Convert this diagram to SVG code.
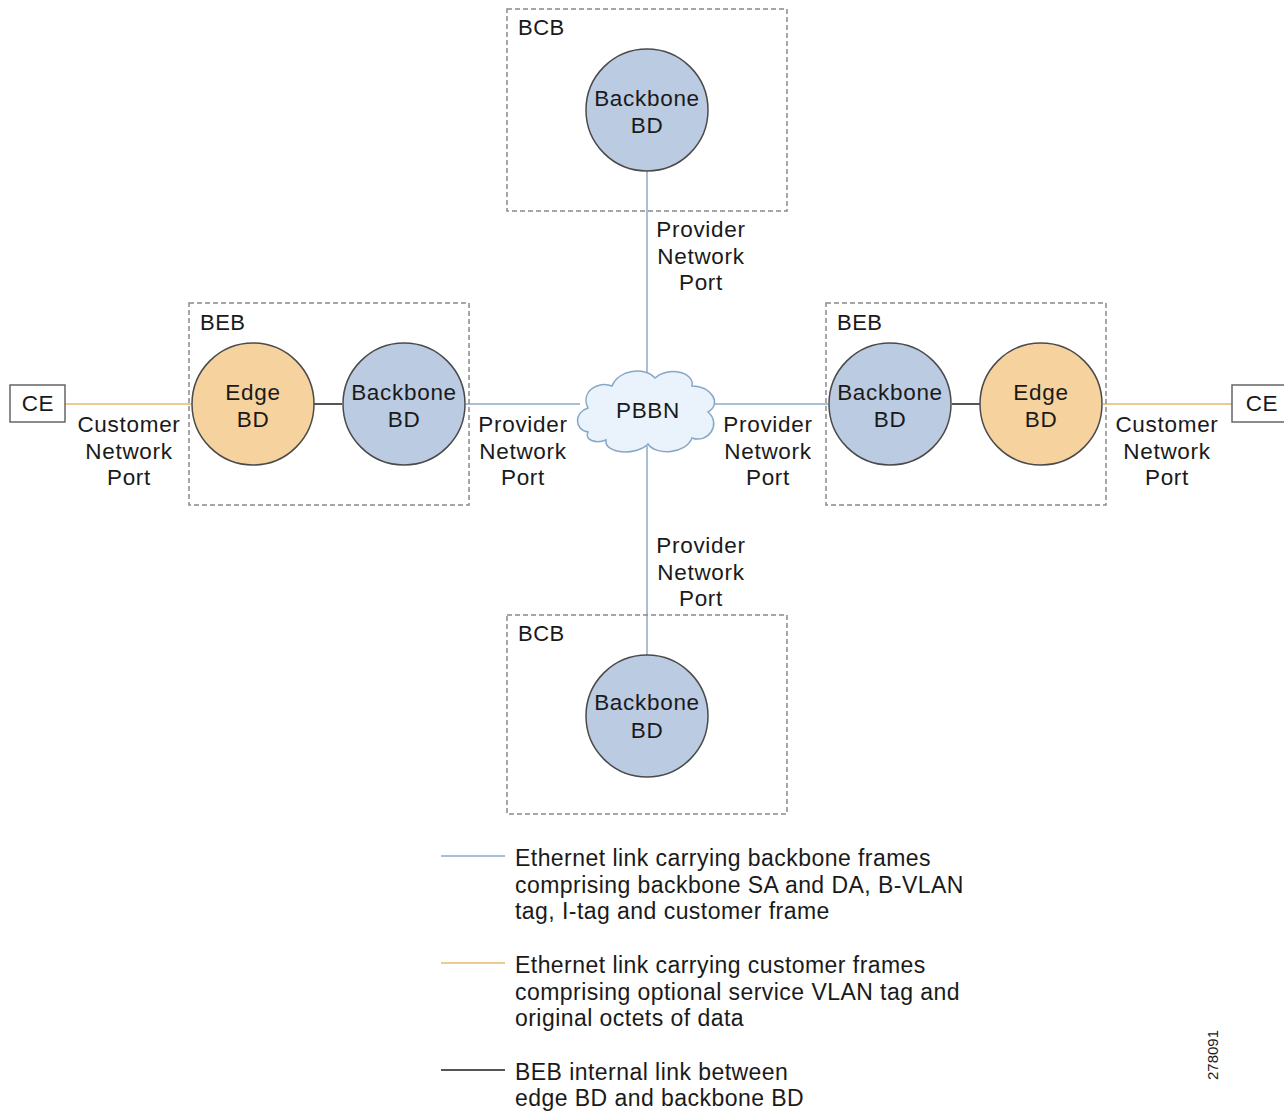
<svg xmlns="http://www.w3.org/2000/svg" width="1284" height="1111" viewBox="0 0 1284 1111">
<style>
  text { font-family: "Liberation Sans", Arial, sans-serif; fill: #1a1a1a; }
  .lbl { font-size: 22.5px; text-anchor: middle; letter-spacing: 0.7px; }
  .box { font-size: 22px; letter-spacing: 0.5px; }
  .leg { font-size: 23px; letter-spacing: 0.45px; }
  .frame { fill: none; stroke: #8a8a8a; stroke-width: 1.5; stroke-dasharray: 5 3; }
  .bb { fill: #bacbe2; stroke: #4a4a4a; stroke-width: 1.5; }
  .edge { fill: #f6d29e; stroke: #4a4a4a; stroke-width: 1.5; }
  .blue { stroke: #8ea8c6; stroke-width: 1.5; fill: none; }
  .orange { stroke: #efc992; stroke-width: 2; fill: none; }
  .black { stroke: #555555; stroke-width: 2; fill: none; }
  .ce { fill: #ffffff; stroke: #666666; stroke-width: 1.5; }
</style>
<rect width="1284" height="1111" fill="#ffffff"/>

<g id="connectors">
  <line class="blue" x1="647" y1="171" x2="647" y2="376"/>
  <line class="blue" x1="647" y1="446" x2="647" y2="655"/>
  <line class="blue" x1="466" y1="404" x2="580" y2="404"/>
  <line class="blue" x1="714" y1="404" x2="828" y2="404"/>
  <line class="orange" x1="65" y1="404" x2="192" y2="404"/>
  <line class="orange" x1="1103" y1="404" x2="1232" y2="404"/>
  <line class="black" x1="314" y1="404" x2="342" y2="404"/>
  <line class="black" x1="952" y1="404" x2="980" y2="404"/>
</g>

<g id="bcb-top">
  <rect class="frame" x="507" y="9" width="280" height="202"/>
  <text class="box" x="518" y="35">BCB</text>
  <circle class="bb" cx="647" cy="110" r="61"/>
  <text class="lbl" x="647" y="106">Backbone</text>
  <text class="lbl" x="647" y="133">BD</text>
</g>

<g id="beb-left">
  <rect class="frame" x="189" y="303" width="280" height="202"/>
  <text class="box" x="200" y="330">BEB</text>
  <circle class="edge" cx="253" cy="404" r="61"/>
  <text class="lbl" x="253" y="400">Edge</text>
  <text class="lbl" x="253" y="427">BD</text>
  <circle class="bb" cx="404" cy="404" r="61"/>
  <text class="lbl" x="404" y="400">Backbone</text>
  <text class="lbl" x="404" y="427">BD</text>
</g>

<g id="beb-right">
  <rect class="frame" x="826" y="303" width="280" height="202"/>
  <text class="box" x="837" y="330">BEB</text>
  <circle class="bb" cx="890" cy="404" r="61"/>
  <text class="lbl" x="890" y="400">Backbone</text>
  <text class="lbl" x="890" y="427">BD</text>
  <circle class="edge" cx="1041" cy="404" r="61"/>
  <text class="lbl" x="1041" y="400">Edge</text>
  <text class="lbl" x="1041" y="427">BD</text>
</g>

<g id="bcb-bottom">
  <rect class="frame" x="507" y="615" width="280" height="199"/>
  <text class="box" x="518" y="641">BCB</text>
  <circle class="bb" cx="647" cy="716" r="61"/>
  <text class="lbl" x="647" y="710">Backbone</text>
  <text class="lbl" x="647" y="738">BD</text>
</g>

<g id="pbbn">
  <path d="M 588 432 C 574 430, 574 412, 588 408 C 580 392, 598 380, 612 386 C 618 370, 645 366, 655 378 C 668 366, 695 372, 692 386 C 712 386, 722 404, 708 412 C 722 424, 708 444, 692 438 C 686 454, 656 456, 648 444 C 636 456, 604 454, 606 440 C 596 444, 584 440, 588 432 Z" fill="#eaf3fb" stroke="#86a7c6" stroke-width="1.5"/>
  <text class="lbl" x="648" y="418">PBBN</text>
</g>

<g id="ce-left">
  <rect class="ce" x="10" y="385" width="55" height="37"/>
  <text class="lbl" x="38" y="411">CE</text>
</g>

<g id="ce-right">
  <rect class="ce" x="1232" y="385" width="60" height="37"/>
  <text class="lbl" x="1262" y="411">CE</text>
</g>

<g id="port-labels">
  <text class="lbl" x="701" y="237">Provider</text>
  <text class="lbl" x="701" y="263.5">Network</text>
  <text class="lbl" x="701" y="290">Port</text>

  <text class="lbl" x="701" y="553">Provider</text>
  <text class="lbl" x="701" y="580">Network</text>
  <text class="lbl" x="701" y="606">Port</text>

  <text class="lbl" x="523" y="432">Provider</text>
  <text class="lbl" x="523" y="458.5">Network</text>
  <text class="lbl" x="523" y="485">Port</text>

  <text class="lbl" x="768" y="432">Provider</text>
  <text class="lbl" x="768" y="458.5">Network</text>
  <text class="lbl" x="768" y="485">Port</text>

  <text class="lbl" x="129" y="432">Customer</text>
  <text class="lbl" x="129" y="458.5">Network</text>
  <text class="lbl" x="129" y="485">Port</text>

  <text class="lbl" x="1167" y="432">Customer</text>
  <text class="lbl" x="1167" y="458.5">Network</text>
  <text class="lbl" x="1167" y="485">Port</text>
</g>

<g id="legend">
  <line class="blue" x1="441" y1="856" x2="505" y2="856"/>
  <text class="leg" x="515" y="866">Ethernet link carrying backbone frames</text>
  <text class="leg" x="515" y="892.5">comprising backbone SA and DA, B-VLAN</text>
  <text class="leg" x="515" y="919">tag, I-tag and customer frame</text>

  <line class="orange" x1="441" y1="963" x2="505" y2="963"/>
  <text class="leg" x="515" y="973">Ethernet link carrying customer frames</text>
  <text class="leg" x="515" y="999.5">comprising optional service VLAN tag and</text>
  <text class="leg" x="515" y="1026">original octets of data</text>

  <line class="black" x1="441" y1="1070" x2="505" y2="1070"/>
  <text class="leg" x="515" y="1080">BEB internal link between</text>
  <text class="leg" x="515" y="1106">edge BD and backbone BD</text>
</g>

<text x="0" y="0" transform="translate(1218,1055) rotate(-90)" style="font-size:15px;text-anchor:middle">278091</text>
</svg>
